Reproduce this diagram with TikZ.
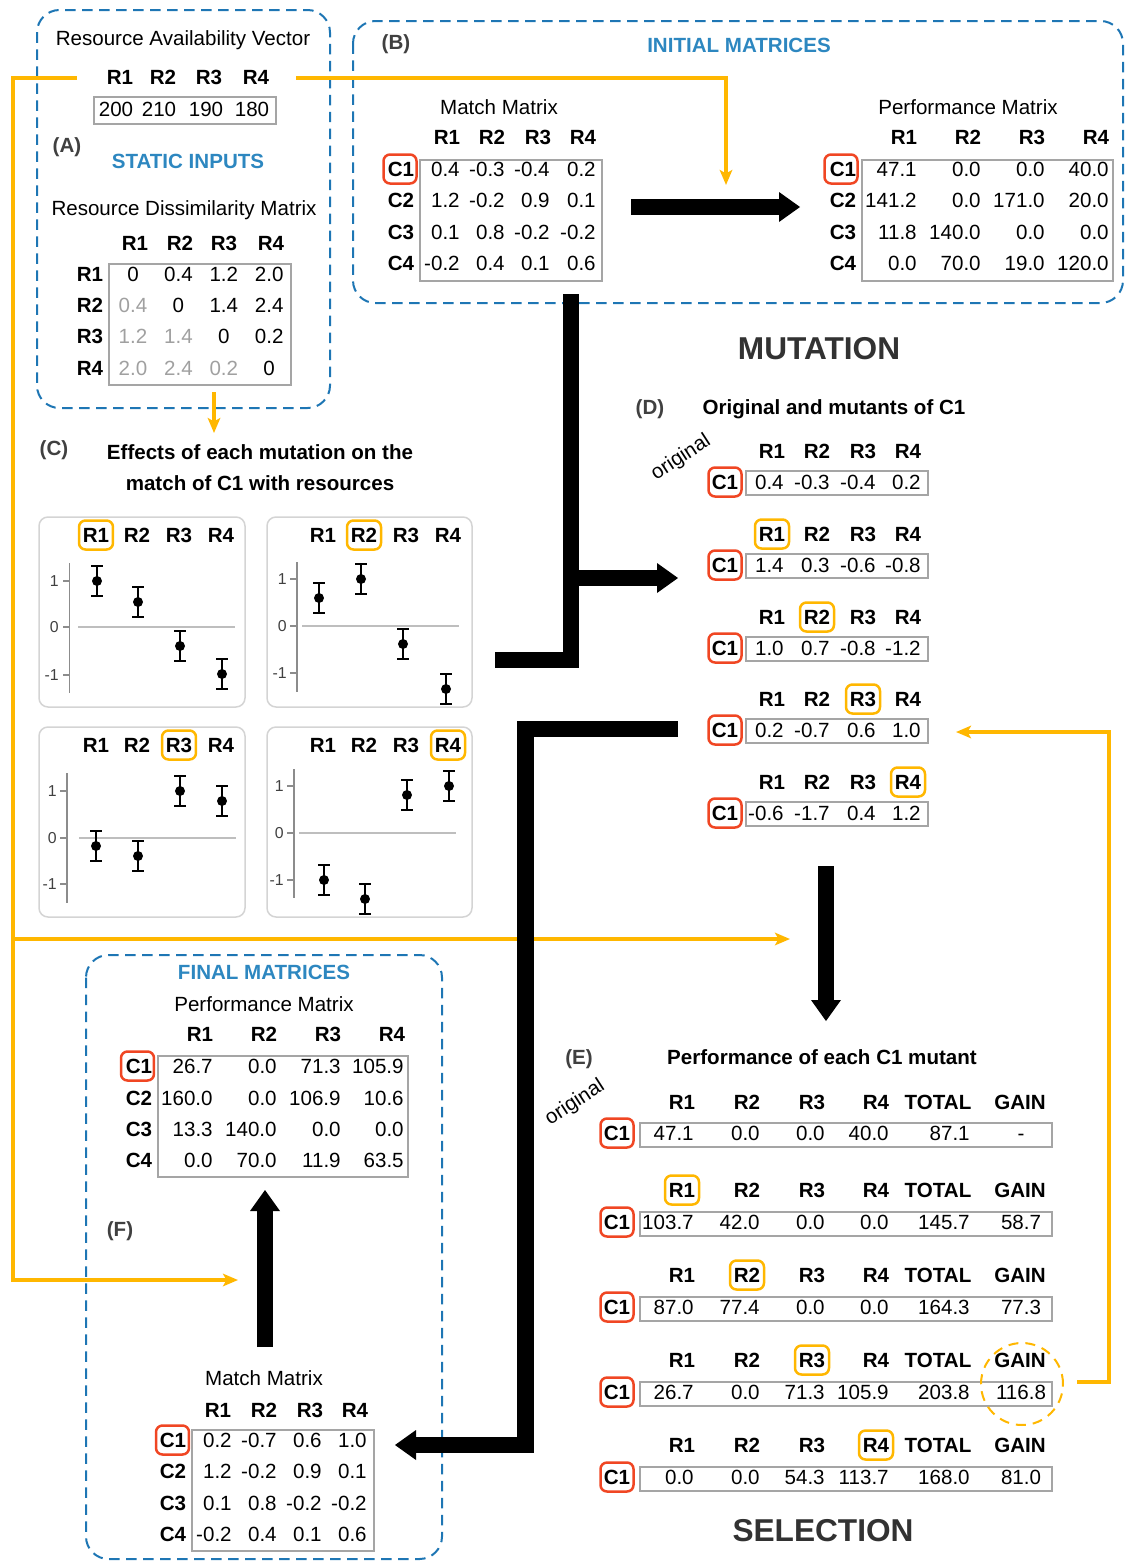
\documentclass[tikz,border=0pt]{standalone}
\usepackage{fontspec}
\setmainfont{Liberation Sans}
\usepackage{tikz}
\usetikzlibrary{arrows.meta,positioning}

\definecolor{dashblue}{RGB}{30,118,180}
\definecolor{headblue}{RGB}{45,135,192}
\definecolor{amber}{RGB}{255,183,0}
\definecolor{markred}{RGB}{240,70,35}
\definecolor{framegray}{RGB}{165,165,165}
\definecolor{panelgray}{RGB}{212,212,212}
\definecolor{fadegray}{RGB}{160,160,160}
\definecolor{axisgray}{RGB}{140,140,140}
\definecolor{zerogray}{RGB}{190,190,190}
\definecolor{taggray}{RGB}{64,64,64}
\definecolor{inkgray}{RGB}{50,50,50}

\begin{document}
\fontsize{11.7}{14}\selectfont
\begin{tikzpicture}[x=0.02cm,y=-0.02cm,
    every node/.style={inner sep=0pt,text height=8.4pt,text depth=0pt},
    hdr/.style={font=\bfseries},
    num/.style={anchor=east},
    tag/.style={font=\bfseries,text=taggray},
    heading/.style={font=\bfseries,text=headblue},
    bigword/.style={font=\fontsize{18}{20}\selectfont\bfseries,text=inkgray,text height=12.9pt},
    cbox/.style={draw=markred,line width=0.05cm,rounded corners=0.13cm,minimum width=0.66cm,minimum height=0.58cm,font=\bfseries},
    rbox/.style={draw=amber,line width=0.05cm,rounded corners=0.13cm,minimum width=0.68cm,minimum height=0.58cm},
    mframe/.style={draw=framegray,line width=0.03cm},
    dashgroup/.style={draw=dashblue,line width=0.04cm,dash pattern=on 0.21cm off 0.13cm,rounded corners=0.45cm},
    plotbox/.style={draw=panelgray,line width=0.03cm,rounded corners=0.18cm},
    plotaxis/.style={draw=axisgray,line width=0.03cm},
    zeroline/.style={draw=zerogray,line width=0.03cm},
    ticklbl/.style={anchor=east,font=\fontsize{9}{10}\selectfont,text=taggray,text height=6.5pt},
    errbar/.style={line width=0.04cm},
    feed/.style={draw=amber,line width=0.066cm,-{Stealth[length=0.3cm,width=0.25cm,inset=0.07cm]}},
    flow/.style={line width=0.33cm,-{Triangle[length=0.42cm,width=0.6cm,line width=0pt]}},
    flowline/.style={line width=0.33cm}]

    \useasboundingbox (0,0) rectangle (1126,1562);

    % Groups
    \draw[dashgroup] (37,10) rectangle (330,408);
    \draw[dashgroup] (353,21) rectangle (1123,303);
    \draw[dashgroup] (86,955) rectangle (442,1559);

    % (A) static inputs
    \node (avtitle) at (183,38) {Resource Availability Vector};
    \foreach \k/\hx in {1/120,2/163,3/209,4/256}
      \node[hdr] (av-h\k) at (\hx,77) {R\k};
    \draw[mframe] (94,97) rectangle (276,124);
    \node (av-1) at (116,109) {200};
    \node (av-2) at (159,109) {210};
    \node (av-3) at (206,109) {190};
    \node (av-4) at (252,109) {180};
    \node[tag] (tagA) at (67,145) {(A)};
    \node[heading] (static) at (188,161) {STATIC INPUTS};
    \node (dmtitle) at (184,208) {Resource Dissimilarity Matrix};
    \foreach \k/\hx in {1/135,2/180,3/224,4/271}
      \node[hdr] (dm-h\k) at (\hx,243) {R\k};
    \foreach \k/\ry in {1/274,2/305,3/336,4/368}
      \node[hdr] (dm-r\k) at (90,\ry) {R\k};
    \draw[mframe] (109,264) rectangle (291,385);
    \foreach \rw/\cl/\vv/\tc in {1/1/0/black,1/2/0.4/black,1/3/1.2/black,1/4/2.0/black,
                                 2/1/0.4/fadegray,2/2/0/black,2/3/1.4/black,2/4/2.4/black,
                                 3/1/1.2/fadegray,3/2/1.4/fadegray,3/3/0/black,3/4/0.2/black,
                                 4/1/2.0/fadegray,4/2/2.4/fadegray,4/3/0.2/fadegray,4/4/0/black}
      \node[text=\tc] (dm-\rw-\cl) at ({133+45.4*(\cl-1)},{274+31.3*(\rw-1)}) {\vv};

    % (B) initial matrices
    \node[tag] (tagB) at (396,42) {(B)};
    \node[heading] (initial) at (739,45) {INITIAL MATRICES};
    \node (bmtitle) at (499,107) {Match Matrix};
    \foreach \k/\hx in {1/447,2/492,3/538,4/583}
      \node[hdr] (bm-h\k) at (\hx,137) {R\k};
    \foreach \k/\ry/\va/\vb/\vc/\vd in {1/169/0.4/-0.3/-0.4/0.2,2/200/1.2/-0.2/0.9/0.1,
                                        3/232/0.1/0.8/-0.2/-0.2,4/263/-0.2/0.4/0.1/0.6}{
      \node[hdr] (bm-c\k) at (401,\ry) {C\k};
      \node[num] (bm-\k-1) at (460,\ry) {\va};
      \node[num] (bm-\k-2) at (505,\ry) {\vb};
      \node[num] (bm-\k-3) at (550,\ry) {\vc};
      \node[num] (bm-\k-4) at (596,\ry) {\vd};
    }
    \node[cbox] (bm-mark) at (400,169) {};
    \draw[mframe] (420,160) rectangle (602,281);

    \node (bptitle) at (968,107) {Performance Matrix};
    \foreach \k/\hx in {1/904,2/968,3/1032,4/1096}
      \node[hdr] (bp-h\k) at (\hx,137) {R\k};
    \foreach \k/\ry/\va/\vb/\vc/\vd in {1/169/47.1/0.0/0.0/40.0,2/200/141.2/0.0/171.0/20.0,
                                        3/232/11.8/140.0/0.0/0.0,4/263/0.0/70.0/19.0/120.0}{
      \node[hdr] (bp-c\k) at (843,\ry) {C\k};
      \node[num] (bp-\k-1) at (917,\ry) {\va};
      \node[num] (bp-\k-2) at (981,\ry) {\vb};
      \node[num] (bp-\k-3) at (1045,\ry) {\vc};
      \node[num] (bp-\k-4) at (1109,\ry) {\vd};
    }
    \node[cbox] (bp-mark) at (841,169) {};
    \draw[mframe] (862,160) rectangle (1113,281);

    % (C) effects of mutations
    \node[tag] (tagC) at (54,448) {(C)};
    \node[hdr] (ctitle1) at (260,452) {Effects of each mutation on the};
    \node[hdr] (ctitle2) at (260,483) {match of C1 with resources};

    % panel R1
    \draw[plotbox] (39,517) rectangle (245,707);
    \foreach \k/\hx in {1/96,2/137,3/179,4/221}
      \node[hdr] (p1-h\k) at (\hx,535) {R\k};
    \node[rbox] (p1-mark) at (p1-h1) {};
    \draw[plotaxis] (69.5,563) -- (69.5,693);
    \foreach \tv/\ty in {1/581,0/627,-1/675}{
      \draw[plotaxis] (63,\ty) -- (69.5,\ty);
      \node[ticklbl] (p1-t\tv) at (59,\ty) {\tv};
    }
    \draw[zeroline] (78,627) -- (235,627);
    \foreach \px/\py in {97/581,138/602,180/646,222/674}{
      \draw[errbar] (\px-6,\py-15) -- (\px+6,\py-15) (\px,\py-15) -- (\px,\py+15) (\px-6,\py+15) -- (\px+6,\py+15);
      \fill (\px,\py) circle (0.1cm);
    }

    % panel R2
    \draw[plotbox] (267,517) rectangle (472,707);
    \foreach \k/\hx in {1/323,2/364,3/406,4/448}
      \node[hdr] (p2-h\k) at (\hx,535) {R\k};
    \node[rbox] (p2-mark) at (p2-h2) {};
    \draw[plotaxis] (297,562) -- (297,692);
    \foreach \tv/\ty in {1/579,0/626,-1/673}{
      \draw[plotaxis] (290,\ty) -- (297,\ty);
      \node[ticklbl] (p2-t\tv) at (287,\ty) {\tv};
    }
    \draw[zeroline] (302,626) -- (459,626);
    \foreach \px/\py in {319/598,361/579,403/644,446/689}{
      \draw[errbar] (\px-6,\py-15) -- (\px+6,\py-15) (\px,\py-15) -- (\px,\py+15) (\px-6,\py+15) -- (\px+6,\py+15);
      \fill (\px,\py) circle (0.1cm);
    }

    % panel R3
    \draw[plotbox] (39,727) rectangle (245,917);
    \foreach \k/\hx in {1/96,2/137,3/179,4/221}
      \node[hdr] (p3-h\k) at (\hx,745) {R\k};
    \node[rbox] (p3-mark) at (p3-h3) {};
    \draw[plotaxis] (67,773) -- (67,903);
    \foreach \tv/\ty in {1/791,0/838,-1/884}{
      \draw[plotaxis] (60,\ty) -- (67,\ty);
      \node[ticklbl] (p3-t\tv) at (57,\ty) {\tv};
    }
    \draw[zeroline] (79,838) -- (236,838);
    \foreach \px/\py in {96/846,138/856,180/791,222/801}{
      \draw[errbar] (\px-6,\py-15) -- (\px+6,\py-15) (\px,\py-15) -- (\px,\py+15) (\px-6,\py+15) -- (\px+6,\py+15);
      \fill (\px,\py) circle (0.1cm);
    }

    % panel R4
    \draw[plotbox] (267,727) rectangle (472,917);
    \foreach \k/\hx in {1/323,2/364,3/406,4/448}
      \node[hdr] (p4-h\k) at (\hx,745) {R\k};
    \node[rbox] (p4-mark) at (p4-h4) {};
    \draw[plotaxis] (294,769) -- (294,898);
    \foreach \tv/\ty in {1/786,0/833,-1/880}{
      \draw[plotaxis] (287,\ty) -- (294,\ty);
      \node[ticklbl] (p4-t\tv) at (284,\ty) {\tv};
    }
    \draw[zeroline] (299,833) -- (456,833);
    \foreach \px/\py in {324/880,365/899,407/795,449/786}{
      \draw[errbar] (\px-6,\py-15) -- (\px+6,\py-15) (\px,\py-15) -- (\px,\py+15) (\px-6,\py+15) -- (\px+6,\py+15);
      \fill (\px,\py) circle (0.1cm);
    }

    % (D) original and mutants
    \node[bigword] (mutation) at (819,348) {MUTATION};
    \node[tag] (tagD) at (650,407) {(D)};
    \node[hdr] (dtitle) at (834,407) {Original and mutants of C1};
    \node[rotate=33] (dorig) at (680,456) {original};
    \foreach \i/\hy/\cy/\va/\vb/\vc/\vd in {0/451/482/0.4/-0.3/-0.4/0.2,1/534/565/1.4/0.3/-0.6/-0.8,
                                            2/617/648/1.0/0.7/-0.8/-1.2,3/699/730/0.2/-0.7/0.6/1.0,
                                            4/782/813/-0.6/-1.7/0.4/1.2}{
      \node[hdr] (d\i-h1) at (772,\hy) {R1};
      \node[hdr] (d\i-h2) at (817,\hy) {R2};
      \node[hdr] (d\i-h3) at (863,\hy) {R3};
      \node[hdr] (d\i-h4) at (908,\hy) {R4};
      \node[cbox] (d\i-c1) at (725,\cy) {C1};
      \draw[mframe] (746,\cy-11) rectangle (928,\cy+13);
      \node[num] (d\i-v1) at (784,\cy) {\va};
      \node[num] (d\i-v2) at (830,\cy) {\vb};
      \node[num] (d\i-v3) at (876,\cy) {\vc};
      \node[num] (d\i-v4) at (921,\cy) {\vd};
      \ifnum\i>0 \node[rbox] (d\i-mark) at (d\i-h\i) {}; \fi
    }

    % (E) performance of each mutant
    \node[tag] (tagE) at (579,1057) {(E)};
    \node[hdr] (etitle) at (822,1057) {Performance of each C1 mutant};
    \node[rotate=33] (eorig) at (574,1101) {original};
    \foreach \i/\hy/\cy/\va/\vb/\vc/\vd/\vt/\vg in {0/1102/1133/47.1/0.0/0.0/40.0/87.1/-,
                                                    1/1190/1222/103.7/42.0/0.0/0.0/145.7/58.7,
                                                    2/1275/1307/87.0/77.4/0.0/0.0/164.3/77.3,
                                                    3/1360/1392/26.7/0.0/71.3/105.9/203.8/116.8,
                                                    4/1445/1477/0.0/0.0/54.3/113.7/168.0/81.0}{
      \node[hdr] (e\i-h1) at (682,\hy) {R1};
      \node[hdr] (e\i-h2) at (747,\hy) {R2};
      \node[hdr] (e\i-h3) at (812,\hy) {R3};
      \node[hdr] (e\i-h4) at (876,\hy) {R4};
      \node[hdr] (e\i-ht) at (938,\hy) {TOTAL};
      \node[hdr] (e\i-hg) at (1020,\hy) {GAIN};
      \node[cbox] (e\i-c1) at (617,\cy) {C1};
      \draw[mframe] (640,\cy-10) rectangle (1052,\cy+14);
      \node[num] (e\i-v1) at (694,\cy) {\va};
      \node[num] (e\i-v2) at (760,\cy) {\vb};
      \node[num] (e\i-v3) at (825,\cy) {\vc};
      \node[num] (e\i-v4) at (889,\cy) {\vd};
      \node[num] (e\i-vt) at (970,\cy) {\vt};
      \node (e\i-vg) at (1021,\cy) {\vg};
      \ifnum\i>0 \node[rbox] (e\i-mark) at (e\i-h\i) {}; \fi
    }
    \node[circle,draw=amber,line width=0.04cm,dash pattern=on 0.2cm off 0.14cm,minimum size=1.64cm] (pick) at (1022,1384) {};
    \node[bigword] (selection) at (823,1530) {SELECTION};

    % (F) final matrices
    \node[heading] (final) at (264,972) {FINAL MATRICES};
    \node (fptitle) at (264,1004) {Performance Matrix};
    \foreach \k/\hx in {1/200,2/264,3/328,4/392}
      \node[hdr] (fp-h\k) at (\hx,1034) {R\k};
    \foreach \k/\ry/\va/\vb/\vc/\vd in {1/1066/26.7/0.0/71.3/105.9,2/1098/160.0/0.0/106.9/10.6,
                                        3/1129/13.3/140.0/0.0/0.0,4/1160/0.0/70.0/11.9/63.5}{
      \node[hdr] (fp-c\k) at (139,\ry) {C\k};
      \node[num] (fp-\k-1) at (213,\ry) {\va};
      \node[num] (fp-\k-2) at (277,\ry) {\vb};
      \node[num] (fp-\k-3) at (341,\ry) {\vc};
      \node[num] (fp-\k-4) at (404,\ry) {\vd};
    }
    \node[cbox] (fp-mark) at (137.5,1066) {};
    \draw[mframe] (158,1056) rectangle (408,1177);
    \node[tag] (tagF) at (120,1229) {(F)};
    \node (fmtitle) at (264,1378) {Match Matrix};
    \foreach \k/\hx in {1/218,2/264,3/310,4/355}
      \node[hdr] (fm-h\k) at (\hx,1410) {R\k};
    \foreach \k/\ry/\va/\vb/\vc/\vd in {1/1440/0.2/-0.7/0.6/1.0,2/1471/1.2/-0.2/0.9/0.1,
                                        3/1503/0.1/0.8/-0.2/-0.2,4/1534/-0.2/0.4/0.1/0.6}{
      \node[hdr] (fm-c\k) at (173,\ry) {C\k};
      \node[num] (fm-\k-1) at (232,\ry) {\va};
      \node[num] (fm-\k-2) at (277,\ry) {\vb};
      \node[num] (fm-\k-3) at (322,\ry) {\vc};
      \node[num] (fm-\k-4) at (367,\ry) {\vd};
    }
    \node[cbox] (fm-mark) at (172.5,1440) {};
    \draw[mframe] (192,1430) rectangle (374,1551);

    % Feeds (orange)
    \coordinate (avL) at (77,78);
    \coordinate (avR) at (296,78);
    \coordinate (bIn) at (726,185);
    \coordinate (dmOut) at (214,392);
    \coordinate (cIn) at (214,433);
    \coordinate (eIn) at (790,939);
    \coordinate (fIn) at (238,1280);
    \coordinate (gainOut) at (1077,1382);
    \coordinate (dIn) at (956,732);
    \draw[feed] (avL) -- (13,78) -- (13,1280) -- (fIn);
    \draw[feed] (13,939) -- (eIn);
    \draw[feed] (avR) -| (bIn);
    \draw[feed] (dmOut) -- (cIn);
    \draw[feed] (gainOut) -- (1109,1382) -- (1109,732) -- (dIn);

    % Flows (black)
    \coordinate (cOut) at (495,660);
    \coordinate (bOut) at (571,294);
    \draw[flowline] (cOut) -- (571,660) -- (bOut);
    \draw[flow] (571,578) -- (678,578);
    \draw[flow] (631,207) -- (800,207);
    \draw[flow] (678,729) -- (525.5,729) -- (525.5,1445) -- (395,1445);
    \draw[flow] (826,866) -- (826,1021);
    \draw[flow] (265,1347) -- (265,1190);

\end{tikzpicture}
\end{document}
